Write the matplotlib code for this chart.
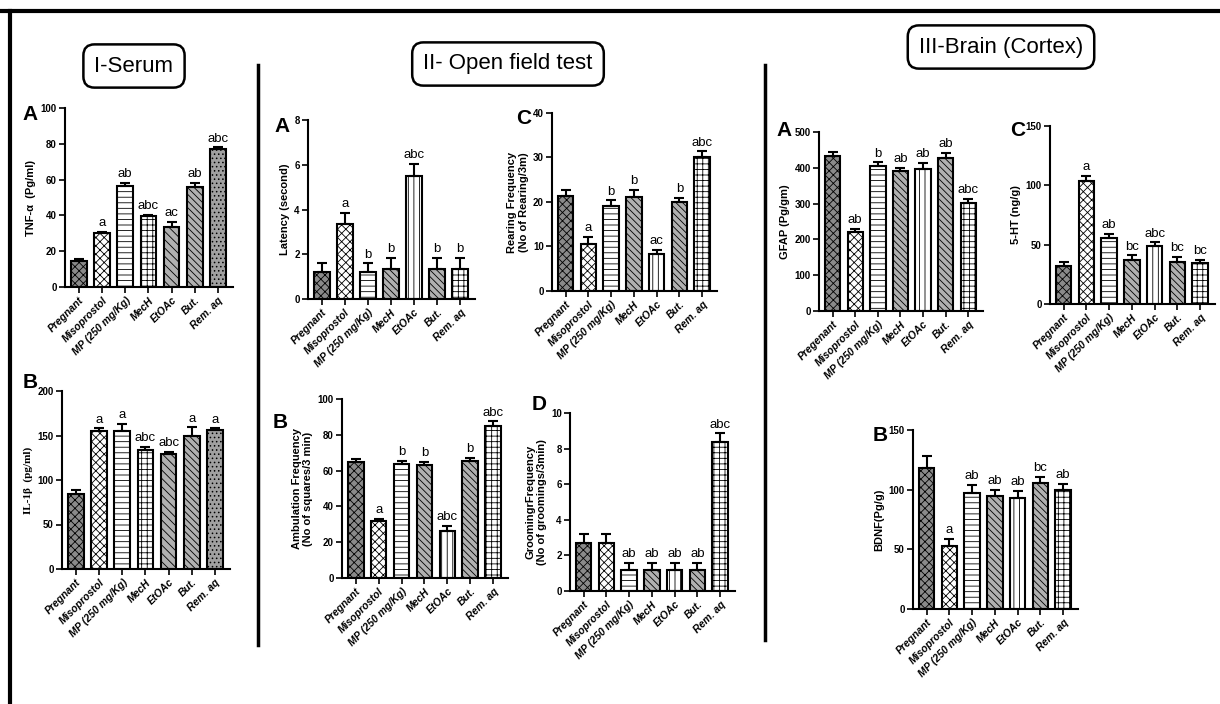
import numpy as np
import matplotlib.pyplot as plt
from matplotlib.lines import Line2D

plt.rcParams['font.family'] = ['Liberation Sans Narrow', 'Liberation Sans', 'DejaVu Sans']
plt.rcParams['hatch.linewidth'] = 0.6

groups = ['Pregnant', 'Misoprostol', 'MP (250 mg/Kg)', 'MecH', 'EtOAc', 'But.', 'Rem. aq']
groups_gfap = ['Pregenant', 'Misoprostol', 'MP (250 mg/Kg)', 'MecH', 'EtOAc', 'But.', 'Rem. aq']

# I - Serum
tnf = [14.5, 30, 56.5, 39.5, 33.5, 56, 77]
tnf_err = [1, 1, 1.5, 1, 3, 2, 1]
tnf_sig = ['', 'a', 'ab', 'abc', 'ac', 'ab', 'abc']

il1b = [84, 155, 155, 134, 129, 150, 156]
il1b_err = [5, 3, 8, 3, 3, 9, 2]
il1b_sig = ['', 'a', 'a', 'abc', 'abc', 'a', 'a']

# II - Open field test
latency = [1.2, 3.35, 1.2, 1.35, 5.5, 1.35, 1.35]
latency_err = [0.4, 0.5, 0.4, 0.5, 0.55, 0.5, 0.5]
latency_sig = ['', 'a', 'b', 'b', 'abc', 'b', 'b']

rearing = [21.3, 10.5, 19, 21.2, 8.3, 20, 30.1]
rearing_err = [1.3, 1.6, 1.4, 1.6, 1, 1, 1.3]
rearing_sig = ['', 'a', 'b', 'b', 'ac', 'b', 'abc']

ambulation = [65, 32, 63.5, 63, 26, 65.5, 85]
ambulation_err = [1.5, 1, 2, 2, 3, 1.5, 2.5]
ambulation_sig = ['', 'a', 'b', 'b', 'abc', 'b', 'abc']

grooming = [2.7, 2.7, 1.2, 1.2, 1.2, 1.2, 8.35]
grooming_err = [0.5, 0.5, 0.4, 0.4, 0.4, 0.4, 0.5]
grooming_sig = ['', '', 'ab', 'ab', 'ab', 'ab', 'abc']

# III - Brain (Cortex)
gfap = [432, 220, 405, 392, 397, 427, 303]
gfap_err = [12, 10, 10, 7, 17, 15, 10]
gfap_sig = ['', 'ab', 'b', 'ab', 'ab', 'ab', 'abc']

serotonin = [32, 104, 56, 37, 49, 35, 34.5]
serotonin_err = [3, 4, 3, 4, 3, 5, 3]
serotonin_sig = ['', 'a', 'ab', 'bc', 'abc', 'bc', 'bc']

bdnf = [118, 53, 97, 95, 93, 106, 100]
bdnf_err = [10, 6, 7, 5, 6, 5, 5]
bdnf_sig = ['', 'a', 'ab', 'ab', 'ab', 'bc', 'ab']

# bar looks (face colour, hatch)
serum_style = [('#8a8a8a', 'xxxx'), ('white', 'xxxx'), ('white', '---'), ('white', '+++'),
               ('#b0b0b0', '\\\\\\\\'), ('#b0b0b0', '\\\\\\\\\\'), ('#a0a0a0', '....')]
other_style = [('#8a8a8a', 'xxxx'), ('white', 'xxxx'), ('white', '---'), ('#b0b0b0', '\\\\\\\\\\'),
               ('white', '|||'), ('#b0b0b0', '\\\\\\\\\\'), ('white', '+++')]

W, H = 1220, 704
fig = plt.figure(figsize=(W / 100, H / 100), dpi=100)


def add_ax(l, t, r, b):
    return fig.add_axes([l / W, 1 - b / H, (r - l) / W, (b - t) / H])


def bar_panel(rect, vals, errs, sigs, ymax, ystep, ylabel, labels, style, ylabel_font=None):
    ax = add_ax(*rect)
    x = np.arange(len(vals))
    for i in x:
        fc, hatch = style[i]
        ax.bar(i, vals[i], width=0.68, color=fc, edgecolor='black', linewidth=1.5, hatch=hatch)
    ax.errorbar(x, vals, yerr=[np.zeros(len(vals)), errs], fmt='none', ecolor='black',
                elinewidth=1.5, capsize=3.5, capthick=1.5)
    for i in x:
        if sigs[i]:
            ax.text(i, vals[i] + errs[i] + ymax * 0.015, sigs[i], ha='center', va='bottom',
                    fontsize=9.5)
    ax.set_xlim(-0.6, len(vals) - 0.35)
    ax.set_ylim(0, ymax)
    ax.set_yticks(np.arange(0, ymax + 0.001, ystep))
    ax.set_xticks(x)
    ax.set_xticklabels(labels, rotation=45, ha='right', rotation_mode='anchor',
                       fontsize=7.5, fontstyle='italic', fontweight='bold',
                       family=['Liberation Sans', 'DejaVu Sans'])
    for s in ['top', 'right']:
        ax.spines[s].set_visible(False)
    for s in ['left', 'bottom']:
        ax.spines[s].set_linewidth(1.5)
    ax.tick_params(axis='both', direction='out', width=1.2, length=4, pad=2)
    ax.tick_params(axis='y', labelsize=7)
    for t in ax.get_yticklabels():
        t.set_fontweight('bold')
    fam = ylabel_font or ['Liberation Sans', 'DejaVu Sans']
    ax.set_ylabel(ylabel, fontsize=8, fontweight='bold', family=fam, labelpad=3)
    return ax


# I - Serum
bar_panel((65, 108, 233, 287), tnf, tnf_err, tnf_sig, 100, 20,
          'TNF-α  (Pg/ml)', groups, serum_style)
bar_panel((62, 391, 230, 569), il1b, il1b_err, il1b_sig, 200, 50,
          'IL-1β  (pg/ml)', groups, serum_style,
          ylabel_font=['Liberation Serif', 'DejaVu Serif'])

# II - Open field test
bar_panel((308, 120, 475, 299), latency, latency_err, latency_sig, 8, 2,
          'Latency (second)', groups, other_style)
bar_panel((552, 113, 717, 291), rearing, rearing_err, rearing_sig, 40, 10,
          'Rearing Frequency\n(No of Rearing/3m)', groups, other_style)
bar_panel((342, 399, 508, 578), ambulation, ambulation_err, ambulation_sig, 100, 20,
          'Ambulation Frequency\n(No of squares/3 min)', groups, other_style)
bar_panel((570, 413, 735, 591), grooming, grooming_err, grooming_sig, 10, 2,
          'GroomingrFrequency\n(No of groomings/3min)', groups, other_style)

# III - Brain (Cortex)
bar_panel((819, 132, 983, 311), gfap, gfap_err, gfap_sig, 500, 100,
          'GFAP (Pg/gm)', groups_gfap, other_style)
bar_panel((1050, 126, 1215, 304), serotonin, serotonin_err, serotonin_sig, 150, 50,
          '5-HT (ng/g)', groups, other_style)
bar_panel((913, 430, 1078, 609), bdnf, bdnf_err, bdnf_sig, 150, 50,
          'BDNF(Pg/g)', groups, other_style)

# panel letters
letters = [('A', 30, 114), ('B', 30, 383), ('A', 282, 126), ('C', 524, 119),
           ('B', 280, 422), ('D', 539, 405), ('A', 784, 130), ('C', 1018, 130),
           ('B', 880, 436)]
for s, lx, ly in letters:
    fig.text(lx / W, 1 - ly / H, s, fontsize=15, fontweight='bold', ha='center', va='center')

# section titles
titles = [('I-Serum', 134, 66), ('II- Open field test', 508, 64), ('III-Brain (Cortex)', 1001, 47)]
for s, tx, ty in titles:
    fig.text(tx / W, 1 - ty / H, s, fontsize=16, ha='center', va='center',
             bbox=dict(boxstyle='round,pad=0.5,rounding_size=0.5', fc='white', ec='black', lw=1.8))

# frame and separators
frame = [((0, 1220), (11, 11), 3), ((10, 10), (11, 704), 3),
         ((258, 258), (65, 645), 2.5), ((765, 765), (65, 640), 2.5)]
for xs, ys, lw in frame:
    fig.add_artist(Line2D([v / W for v in xs], [1 - v / H for v in ys], color='black', lw=lw))

fig.savefig('out.png', dpi=100, facecolor='white')
